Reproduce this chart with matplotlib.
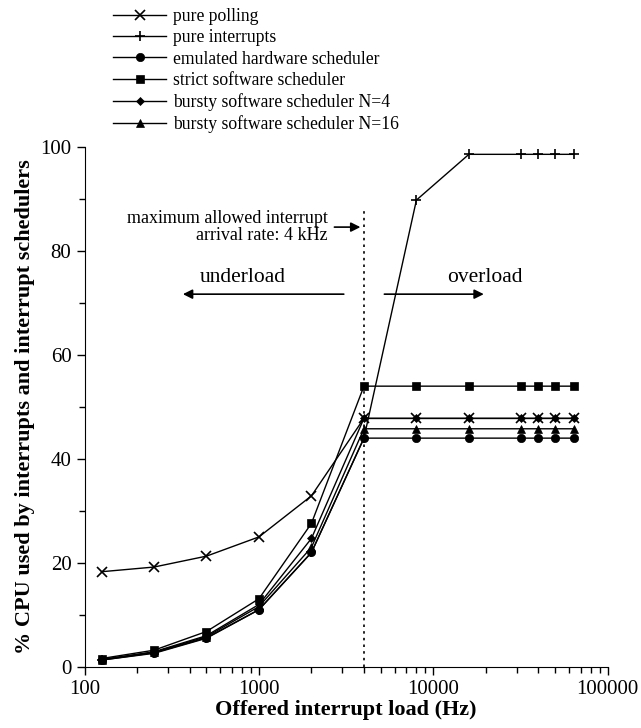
import matplotlib
matplotlib.use("Agg")
import matplotlib.pyplot as plt

plt.rcParams['font.family'] = ['Liberation Serif', 'DejaVu Serif']

load = [125, 250, 500, 1000, 2000, 4000, 8000, 16000, 32000, 40000, 50000, 64000]
pure_polling = [18.3, 19.2, 21.3, 25.0, 32.9, 47.8, 47.8, 47.8, 47.8, 47.8, 47.8, 47.8]
pure_interrupts = [1.3, 2.7, 5.6, 11.0, 22.0, 44.0, 89.8, 98.6, 98.6, 98.6, 98.6, 98.6]
emulated_hw = [1.3, 2.6, 5.5, 11.0, 22.0, 44.0, 44.0, 44.0, 44.0, 44.0, 44.0, 44.0]
strict_sw = [1.6, 3.2, 6.8, 13.1, 27.6, 54.0, 54.0, 54.0, 54.0, 54.0, 54.0, 54.0]
bursty_4 = [1.4, 2.9, 6.0, 12.0, 24.7, 47.8, 47.8, 47.8, 47.8, 47.8, 47.8, 47.8]
bursty_16 = [1.4, 2.8, 5.8, 11.6, 23.0, 45.8, 45.8, 45.8, 45.8, 45.8, 45.8, 45.8]

labels = ["pure polling", "pure interrupts", "emulated hardware scheduler",
          "strict software scheduler", "bursty software scheduler N=4",
          "bursty software scheduler N=16"]
series = [pure_polling, pure_interrupts, emulated_hw, strict_sw, bursty_4, bursty_16]
markers = ['x', '+', 'o', 's', 'D', '^']
msizes = [7, 7, 6, 6, 4.5, 6]

fig = plt.figure(figsize=(6.41, 7.28), dpi=100)
ax = fig.add_axes([0.132, 0.084, 0.816, 0.714])

handles = []
for ys, lab, m, ms in zip(series, labels, markers, msizes):
    h, = ax.plot(load, ys, color='black', lw=1.0, marker=m, markersize=ms,
                 markeredgewidth=1.2 if m in 'x+' else 0.5, label=lab)
    handles.append(h)

ax.set_xscale('log')
ax.set_xlim(100, 100000)
ax.set_ylim(0, 100)
ax.set_xticks([100, 1000, 10000, 100000])
ax.set_xticklabels(['100', '1000', '10000', '100000'])
ax.set_yticks([0, 20, 40, 60, 80, 100])
ax.set_yticks([10, 30, 50, 70, 90], minor=True)
ax.tick_params(axis='both', which='major', direction='out', length=6, width=1, labelsize=15)
ax.tick_params(axis='both', which='minor', direction='out', length=4, width=1)
ax.spines['top'].set_visible(False)
ax.spines['right'].set_visible(False)

ax.set_xlabel('Offered interrupt load (Hz)', fontsize=16, fontweight='bold', labelpad=1)
ax.set_ylabel('% CPU used by interrupts and interrupt schedulers', fontsize=16,
              fontweight='bold', labelpad=4)

# vertical dotted line at 4 kHz
ax.plot([4000, 4000], [0, 88], color='black', lw=1.2, linestyle=(0, (1.5, 2.5)))

ax.text(2490, 84.6, 'maximum allowed interrupt\narrival rate: 4 kHz', ha='right',
        va='center', fontsize=13, linespacing=1.0)
ax.annotate('', xy=(3960, 84.6), xytext=(2610, 84.6),
            arrowprops=dict(arrowstyle='-|>', color='black', lw=1.2, mutation_scale=14))

ax.text(810, 75, 'underload', ha='center', va='center', fontsize=15.5)
ax.annotate('', xy=(353, 71.7), xytext=(3180, 71.7),
            arrowprops=dict(arrowstyle='-|>', color='black', lw=1.2, mutation_scale=14))
ax.text(19800, 75, 'overload', ha='center', va='center', fontsize=15.5)
ax.annotate('', xy=(20200, 71.7), xytext=(5050, 71.7),
            arrowprops=dict(arrowstyle='-|>', color='black', lw=1.2, mutation_scale=14))

fig.legend(handles=handles, labels=labels, loc='upper left',
           bbox_to_anchor=(106 / 641, 1 - 1 / 728), frameon=False, fontsize=12.7,
           handlelength=3.0, handletextpad=0.4, labelspacing=0.24, borderaxespad=0)

fig.savefig('out.png', dpi=100)
